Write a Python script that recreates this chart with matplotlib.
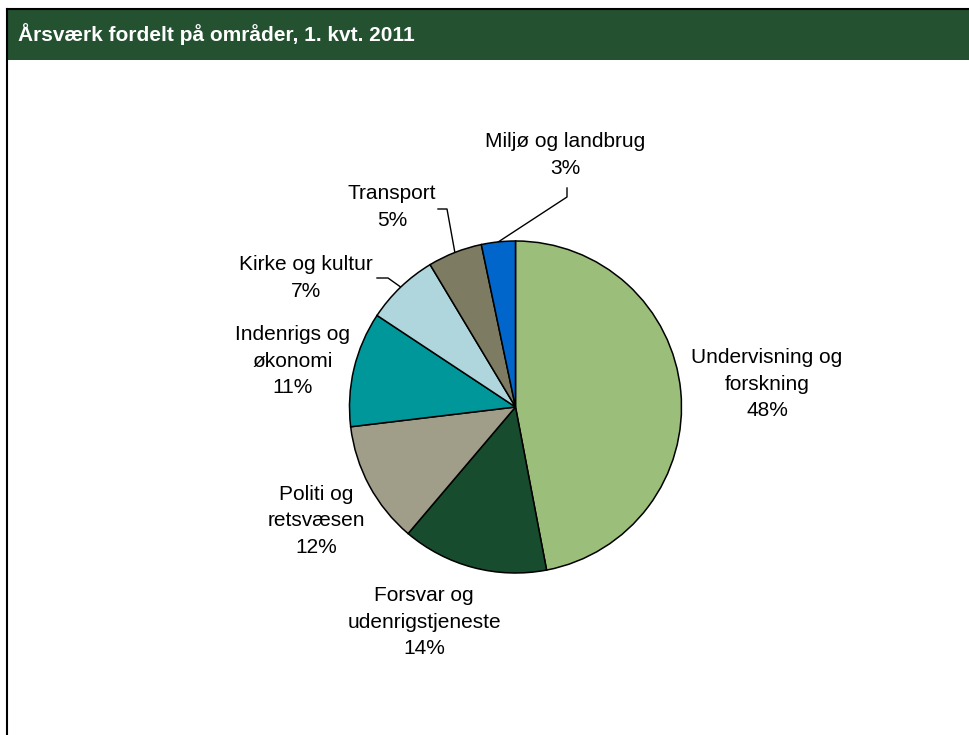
import numpy as np
import matplotlib
matplotlib.use("Agg")
import matplotlib.pyplot as plt

plt.rcParams['font.family'] = ['Liberation Sans', 'DejaVu Sans']

title = "Årsværk fordelt på områder, 1. kvt. 2011"
categories = ["Undervisning og\nforskning", "Forsvar og\nudenrigstjeneste", "Politi og\nretsvæsen",
              "Indenrigs og\nøkonomi", "Kirke og kultur", "Transport", "Miljø og landbrug"]
values = [47.0, 14.2, 11.9, 11.2, 7.1, 5.3, 3.3]
pct_labels = ["48%", "14%", "12%", "11%", "7%", "5%", "3%"]
colors = ["#9BBE7A", "#174D2E", "#A09D88", "#00979B", "#AED6DC", "#7D7C63", "#0066CC"]

W, H = 970, 735
fig = plt.figure(figsize=(W / 100, H / 100), dpi=100)
fig.patch.set_facecolor("white")

# overlay in pixel coords
ov = fig.add_axes([0, 0, 1, 1])
ov.set_xlim(0, W)
ov.set_ylim(H, 0)
ov.axis("off")

# title bar and borders
ov.add_patch(plt.Rectangle((7, 9), W - 7, 51, facecolor="#245130", edgecolor="none", zorder=1))
ov.plot([7, W], [9, 9], color="black", lw=1.5, zorder=2)
ov.plot([7.5, 7.5], [9, H], color="black", lw=1.5, zorder=2)
ov.text(18, 34, title, color="white", fontsize=15, fontweight="bold", va="center", ha="left", zorder=3)

# pie
cx, cy, r = 515.5, 407, 166
pie_ax = fig.add_axes([(cx - r) / W, 1 - (cy + r) / H, 2 * r / W, 2 * r / H])
wedges, _ = pie_ax.pie(values, colors=colors, startangle=90, counterclock=False,
                       wedgeprops=dict(edgecolor="black", linewidth=1.1))
pie_ax.set_xlim(-1, 1)
pie_ax.set_ylim(-1, 1)
pie_ax.set_aspect("equal")

# label positions (pixel layout)
label_pos = [(767, 384), (424, 622), (316, 521), (293, 361), (306, 278), (392, 207), (565, 155)]
for name, pct, (lx, ly) in zip(categories, pct_labels, label_pos):
    ov.text(lx, ly, name + "\n" + pct, ha="center", va="center", fontsize=15,
            linespacing=1.5, color="black", zorder=3)

fig.canvas.draw()

def edge_point(w):
    ang = np.deg2rad((w.theta1 + w.theta2) / 2)
    p = pie_ax.transData.transform((np.cos(ang), np.sin(ang)))
    return ov.transData.inverted().transform(p)

# leader lines
px, py = edge_point(wedges[6])
ov.plot([567, 567, px], [188, 197, py], color="black", lw=1.0, zorder=3)
px, py = edge_point(wedges[5])
ov.plot([438, 447, px], [209, 209, py], color="black", lw=1.0, zorder=3)
px, py = edge_point(wedges[4])
ov.plot([377, 388, px], [278, 278, py], color="black", lw=1.0, zorder=3)

fig.savefig("out.png", dpi=100, facecolor="white")
